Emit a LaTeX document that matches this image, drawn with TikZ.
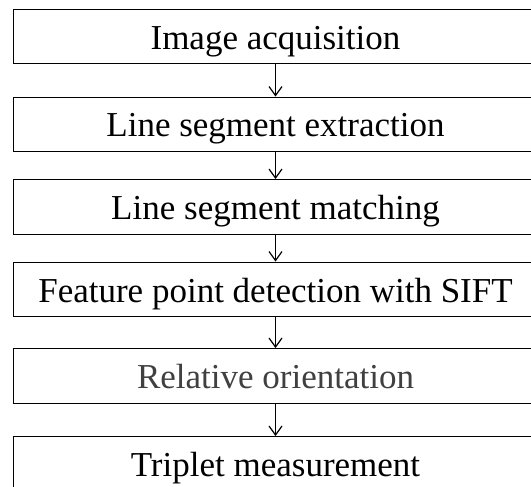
\documentclass[tikz,border=0pt]{standalone}
\usepackage{fontspec}
\setmainfont{Liberation Serif}
\usetikzlibrary{arrows.meta}
\begin{document}
\begin{tikzpicture}[x=1pt,y=-1pt,
  stepbox/.style={draw=black, line width=1.4pt, minimum width=524pt, minimum height=54.5pt, inner sep=0pt, text height=25pt, text depth=0pt, font=\fontsize{35}{40}\selectfont, anchor=center},
  flow/.style={draw=black, line width=1.2pt, -{Straight Barb[length=9pt,width=13pt,line width=1.2pt]}}]
\useasboundingbox (0,0) rectangle (531,487);
\clip (0,0) rectangle (531,487);
\fill[white] (0,0) rectangle (531,487);
\node[stepbox, text height=27pt] (b1) at (275.5,36.5) {Image acquisition};
\node[stepbox] (b2) at (275.5,124.5) {Line segment extraction};
\node[stepbox] (b3) at (275.5,207) {Line segment matching};
\node[stepbox] (b4) at (275.5,289.5) {Feature point detection with SIFT};
\node[stepbox, text=black!75] (b5) at (275.5,376) {Relative orientation};
\node[stepbox] (b6) at (275.5,464) {Triplet measurement};
\draw[flow] (b1) -- (b2);
\draw[flow] (b2) -- (b3);
\draw[flow] (b3) -- (b4);
\draw[flow] (b4) -- (b5);
\draw[flow] (b5) -- (b6);
\end{tikzpicture}
\end{document}
